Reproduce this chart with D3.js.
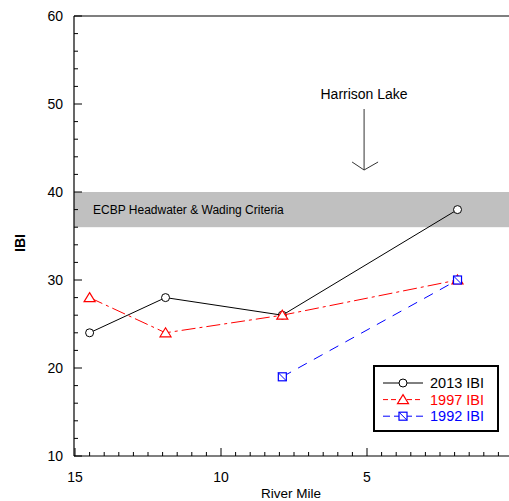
<!DOCTYPE html>
<html><head><meta charset="utf-8">
<script src="https://cdn.jsdelivr.net/npm/d3@7"></script>
<style>body{margin:0;background:#fff}svg{display:block;font-family:Arial,"Liberation Sans",sans-serif}</style>
</head><body><svg id="c" width="509" height="501"></svg>
<script>
const s2013 = [{m:14.5,v:24},{m:11.9,v:28},{m:7.9,v:26},{m:1.9,v:38}];
const s1997 = [{m:14.5,v:28},{m:11.9,v:24},{m:7.9,v:26},{m:1.9,v:30}];
const s1992 = [{m:7.9,v:19},{m:1.9,v:30}];
const yTicks = [10,20,30,40,50,60];
const xTicks = [15,10,5];
const band = [36,40];
const lakeMile = 5.1;

const svg = d3.select("#c");
const x = d3.scaleLinear().domain([15,0]).range([75,513]);
const y = d3.scaleLinear().domain([10,60]).range([456,16]);
const X0 = 74, X1 = 509;

// band
svg.append("rect").attr("x",X0).attr("y",y(band[1])).attr("width",X1-X0)
  .attr("height",y(band[0])-y(band[1])).attr("fill","#c0c0c0");
svg.append("text").attr("x",93).attr("y",(y(band[0])+y(band[1]))/2+4)
  .attr("font-size",12).text("ECBP Headwater & Wading Criteria");

// frame
svg.append("line").attr("x1",X0).attr("x2",X1).attr("y1",16).attr("y2",16).attr("stroke","#000").attr("stroke-width",1.2);
svg.append("line").attr("x1",X0).attr("x2",X0).attr("y1",16).attr("y2",456).attr("stroke","#000").attr("stroke-width",1.2);
svg.append("line").attr("x1",X0).attr("x2",X1).attr("y1",456).attr("y2",456).attr("stroke","#000").attr("stroke-width",1.2);

// y ticks
const yMinor = d3.range(10,60.01,2);
svg.append("g").selectAll("line").data(yMinor).join("line")
  .attr("x1",X0).attr("x2",d=>X0+(d%10===0?8:4)).attr("y1",d=>y(d)).attr("y2",d=>y(d))
  .attr("stroke","#000");
svg.append("g").selectAll("text").data(yTicks).join("text")
  .attr("x",63).attr("y",d=>y(d)+5).attr("text-anchor","end").attr("font-size",14).text(d=>d);
// x ticks
const xMinor = d3.range(0.5,15.01,0.5);
svg.append("g").selectAll("line").data(xMinor).join("line")
  .attr("x1",d=>x(d)).attr("x2",d=>x(d)).attr("y1",456).attr("y2",d=>456-(d%5===0?8:4))
  .attr("stroke","#000");
svg.append("g").selectAll("text").data(xTicks).join("text")
  .attr("x",d=>x(d)).attr("y",482).attr("text-anchor","middle").attr("font-size",14).text(d=>d);

svg.append("text").attr("x",291).attr("y",498).attr("text-anchor","middle").attr("font-size",13.5).text("River Mile");
svg.append("text").attr("transform","translate(25,243) rotate(-90)").attr("text-anchor","middle")
  .attr("font-size",14).attr("font-weight","bold").text("IBI");

// Harrison Lake
svg.append("text").attr("x",x(lakeMile)).attr("y",99).attr("text-anchor","middle").attr("font-size",14).text("Harrison Lake");
svg.append("line").attr("x1",x(lakeMile)).attr("x2",x(lakeMile)).attr("y1",109).attr("y2",170).attr("stroke","#333");
svg.append("path").attr("d",`M${x(lakeMile)-12},162L${x(lakeMile)},170L${x(lakeMile)+14},162`).attr("fill","none").attr("stroke","#333");

const line = d3.line().x(d=>x(d.m)).y(d=>y(d.v));
function drawSeries(data,color,dash,marker){
  svg.append("path").datum(data).attr("d",line).attr("fill","none").attr("stroke",color)
    .attr("stroke-width",1).attr("stroke-dasharray",dash);
  const g = svg.append("g");
  data.forEach(d=>marker(g,x(d.m),y(d.v)));
}
const circ=(g,cx,cy)=>g.append("circle").attr("cx",cx).attr("cy",cy).attr("r",4).attr("fill","#fff").attr("stroke","#000");
const tri=(g,cx,cy)=>g.append("path").attr("d",`M${cx},${cy-5}L${cx+5.5},${cy+4}L${cx-5.5},${cy+4}Z`).attr("fill","#fff").attr("stroke","#f00").attr("stroke-width",1.2);
const sq=(g,cx,cy)=>{g.append("rect").attr("x",cx-4).attr("y",cy-4).attr("width",8).attr("height",8).attr("fill","#fff").attr("stroke","#00f").attr("stroke-width",1.2);
  g.append("line").attr("x1",cx-4).attr("y1",cy-4).attr("x2",cx+4).attr("y2",cy+4).attr("stroke","#00f");};

drawSeries(s2013,"#000",null,circ);
drawSeries(s1997,"#f00","14,4,3,4",tri);
drawSeries(s1992,"#00f","10,8",sq);

// legend
const lg = svg.append("g");
lg.append("rect").attr("x",374).attr("y",366).attr("width",124).attr("height",65).attr("fill","#fff").attr("stroke","#000").attr("stroke-width",2);
const items=[{t:"2013 IBI",c:"#000",d:null,m:circ},{t:"1997 IBI",c:"#f00",d:"5,3",m:tri},{t:"1992 IBI",c:"#00f",d:"7,4",m:sq}];
items.forEach((it,i)=>{
  const yy=383+i*16.6;
  lg.append("line").attr("x1",383).attr("x2",423).attr("y1",yy).attr("y2",yy).attr("stroke",it.c).attr("stroke-dasharray",it.d);
  it.m(lg,403,yy);
  lg.append("text").attr("x",430).attr("y",yy+5).attr("font-size",14.5).attr("fill",it.c).text(it.t);
});
</script></body></html>
